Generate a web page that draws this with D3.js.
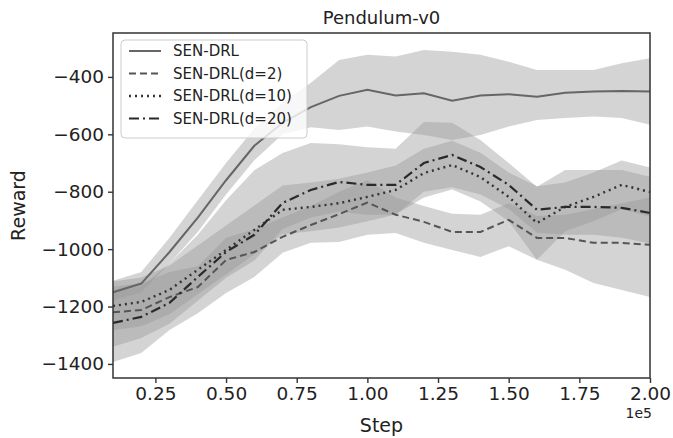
<!DOCTYPE html>
<html>
<head>
  <title>Pendulum-v0</title>
  <script src="https://d3js.org/d3.v7.min.js"></script>
  <style>
    body { margin: 0; background: #fff; }
    text { font-family: "DejaVu Sans", sans-serif; fill: #222; }
  </style>
</head>
<body>
<svg id="chart" width="673" height="438"></svg>
<script>
// steps in units of 1e5
var steps = [0.1,0.2,0.3,0.4,0.5,0.6,0.7,0.8,0.9,1.0,1.1,1.2,1.3,1.4,1.5,1.6,1.7,1.8,1.9,2.0];

var names = ["SEN-DRL", "SEN-DRL(d=2)", "SEN-DRL(d=10)", "SEN-DRL(d=20)"];

var senMean  = [-1150,-1120,-1010,-890,-760,-640,-560,-505,-466,-445,-465,-457,-483,-465,-460,-469,-455,-451,-449,-451];
var senHi    = [-1110,-1080,-960,-830,-700,-580,-490,-420,-341,-323,-329,-306,-312,-323,-347,-376,-376,-376,-352,-335];
var senLo    = [-1180,-1150,-1050,-940,-810,-690,-600,-575,-585,-573,-590,-602,-620,-602,-573,-550,-543,-538,-543,-567];

var d2Mean   = [-1220,-1212,-1167,-1132,-1038,-1010,-957,-916,-878,-838,-880,-905,-940,-940,-898,-961,-961,-978,-978,-985];
var d2Hi     = [-1130,-1120,-1080,-1060,-960,-930,-890,-850,-800,-760,-820,-850,-877,-880,-840,-885,-880,-860,-840,-820];
var d2Lo     = [-1393,-1362,-1282,-1223,-1153,-1097,-1013,-978,-975,-950,-944,-978,-1003,-1027,-990,-1037,-1072,-1118,-1142,-1167];

var d10Mean  = [-1198,-1184,-1142,-1072,-1003,-933,-863,-853,-840,-818,-794,-735,-707,-749,-818,-909,-853,-818,-776,-801];
var d10Hi    = [-1113,-1099,-1057,-987,-918,-848,-778,-768,-755,-733,-709,-650,-622,-664,-733,-781,-768,-733,-691,-716];
var d10Lo    = [-1283,-1269,-1227,-1157,-1088,-1018,-948,-938,-925,-903,-879,-820,-792,-834,-903,-1037,-938,-903,-861,-886];

var d20Mean  = [-1257,-1236,-1187,-1097,-1010,-950,-839,-794,-766,-776,-776,-700,-672,-714,-776,-863,-853,-853,-856,-874];
var d20Hi    = [-1150,-1130,-1050,-950,-830,-725,-665,-630,-635,-645,-650,-557,-560,-620,-700,-783,-724,-724,-724,-748];
var d20Lo    = [-1340,-1310,-1260,-1180,-1100,-1040,-930,-890,-870,-880,-880,-800,-784,-810,-860,-943,-950,-950,-960,-980];

var xTicks = [0.25,0.5,0.75,1.0,1.25,1.5,1.75,2.0];
var yTicks = [-1400,-1200,-1000,-800,-600,-400];

var series = [
  {name: names[0], mean: senMean, hi: senHi, lo: senLo, stroke: "#666",    dash: null,       width: 2},
  {name: names[1], mean: d2Mean,  hi: d2Hi,  lo: d2Lo,  stroke: "#555",    dash: "7,4",      width: 2},
  {name: names[2], mean: d10Mean, hi: d10Hi, lo: d10Lo, stroke: "#333",    dash: "2,4",      width: 2.4},
  {name: names[3], mean: d20Mean, hi: d20Hi, lo: d20Lo, stroke: "#2a2a2a", dash: "10,4,2,4", width: 2.2}
];

var svg = d3.select("#chart");
var margin = {left: 113, right: 23, top: 33, bottom: 60};
var W = 673, H = 438;

var x = d3.scaleLinear().domain([0.1, 2.0]).range([margin.left, W - margin.right]);
var y = d3.scaleLinear().domain([-1449, -247]).range([H - margin.bottom, margin.top]);

var g = svg.append("g");

// shaded bands
var area = d3.area()
  .x(function(d) { return x(d.s); })
  .y0(function(d) { return y(d.lo); })
  .y1(function(d) { return y(d.hi); });

series.forEach(function(s) {
  var pts = steps.map(function(st, i) { return {s: st, lo: s.lo[i], hi: s.hi[i]}; });
  g.append("path")
    .attr("d", area(pts))
    .attr("fill", "#999")
    .attr("fill-opacity", 0.42);
});

// mean lines
var line = d3.line()
  .x(function(d, i) { return x(steps[i]); })
  .y(function(d) { return y(d); });

series.forEach(function(s) {
  g.append("path")
    .attr("d", line(s.mean))
    .attr("fill", "none")
    .attr("stroke", s.stroke)
    .attr("stroke-width", s.width)
    .attr("stroke-dasharray", s.dash);
});

// axes
var xAxis = d3.axisBottom(x).tickValues(xTicks).tickFormat(d3.format(".2f")).tickSize(5).tickPadding(4);
var yAxis = d3.axisLeft(y).tickValues(yTicks).tickFormat(function(d) { return "\u2212" + Math.abs(d); }).tickSize(5).tickPadding(4);

var gx = svg.append("g").attr("transform", "translate(0," + (H - margin.bottom) + ")").call(xAxis);
var gy = svg.append("g").attr("transform", "translate(" + margin.left + ",0)").call(yAxis);
[gx, gy].forEach(function(a) {
  a.select(".domain").remove();
  a.selectAll(".tick line").attr("stroke", "#333").attr("stroke-width", 1.4);
  a.selectAll(".tick text").style("font-size", "18.5px").attr("fill", "#222");
});

// frame
svg.append("rect")
  .attr("x", margin.left).attr("y", margin.top)
  .attr("width", W - margin.right - margin.left)
  .attr("height", H - margin.bottom - margin.top)
  .attr("fill", "none").attr("stroke", "#333").attr("stroke-width", 1.5);

// titles
svg.append("text").attr("x", (margin.left + W - margin.right) / 2).attr("y", 24)
  .attr("text-anchor", "middle").style("font-size", "18px").text("Pendulum-v0");
svg.append("text").attr("x", (margin.left + W - margin.right) / 2).attr("y", 432)
  .attr("text-anchor", "middle").style("font-size", "19px").text("Step");
svg.append("text").attr("x", W - margin.right + 2).attr("y", 418)
  .attr("text-anchor", "end").style("font-size", "14px").text("1e5");
svg.append("text")
  .attr("transform", "translate(25," + ((margin.top + H - margin.bottom) / 2) + ") rotate(-90)")
  .attr("text-anchor", "middle").style("font-size", "19px").text("Reward");

// legend
var lg = svg.append("g").attr("transform", "translate(121,40)");
lg.append("rect").attr("width", 186).attr("height", 98).attr("rx", 4)
  .attr("fill", "#fff").attr("fill-opacity", 0.8).attr("stroke", "#ccc");
series.forEach(function(s, i) {
  var yy = 11 + i * 22.5;
  lg.append("line").attr("x1", 8).attr("x2", 40).attr("y1", yy).attr("y2", yy)
    .attr("stroke", s.stroke).attr("stroke-width", s.width).attr("stroke-dasharray", s.dash);
  lg.append("text").attr("x", 52).attr("y", yy + 5).style("font-size", "15px").text(s.name);
});
</script>
</body>
</html>
